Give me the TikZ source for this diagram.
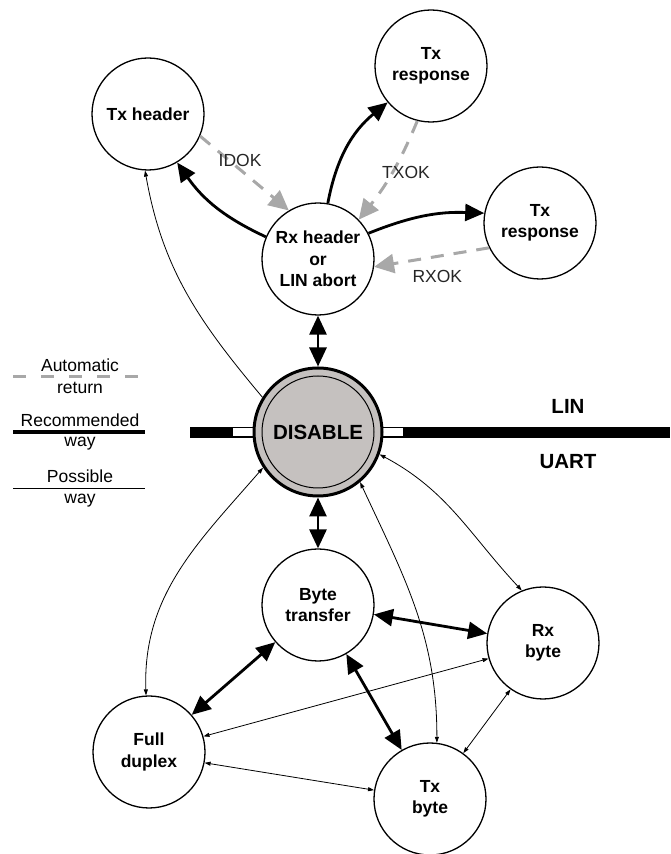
\documentclass[tikz,border=0pt]{standalone}
\usepackage{fontspec}
\setmainfont{Liberation Sans}
\usetikzlibrary{arrows.meta}
\definecolor{retgray}{RGB}{168,168,168}
\definecolor{disfill}{RGB}{197,193,191}
\tikzset{
  state/.style={circle, draw, line width=1.3pt, fill=white, minimum size=112pt,
              inner sep=0pt, align=center, font=\fontsize{17.5}{21.5}\selectfont\bfseries},
  disable/.style={state, fill=disfill, line width=3pt, minimum size=128pt,
              font=\fontsize{20.5}{24}\selectfont\bfseries},
  bigtip/.tip={Triangle[length=19pt,width=17pt]},
  graytip/.tip={Triangle[length=20pt,width=19pt]},
  smalltip/.tip={Triangle[length=6pt,width=4pt]},
  recflow/.style={line width=2.8pt, black},
  retflow/.style={draw=retgray, line width=3pt, dash pattern=on 13pt off 10pt, -graytip},
  possflow/.style={line width=0.8pt, black},
}

\begin{document}
\begin{tikzpicture}[x=1pt, y=1pt,
          lbl/.style={font=\fontsize{17.5}{21}\selectfont, inner sep=0pt},
          side/.style={font=\fontsize{20.5}{24}\selectfont\bfseries, inner sep=0pt}]
        \useasboundingbox (0,0) rectangle (670,854);
        % LIN / UART separation bar
        \fill[black] (190,416) rectangle (670,427);
        \fill[white] (233,417.5) rectangle (258,425.5);
        \fill[white] (378,417.5) rectangle (403,425.5);
        \node[side] (lin) at (568,448) {LIN};
        \node[side] (uart) at (568,392) {UART};
        % states
        \node[state] (txh) at (148,740) {Tx header};
        \node[state] (txr) at (431,788) {Tx\\response};
        \node[state] (txr2) at (540,631) {Tx\\response};
        \node[state] (rxh) at (318,595) {Rx header\\or\\LIN abort};
        \node[disable] (dis) at (318,422) {DISABLE};
        \draw[line width=1pt] (dis.center) circle[radius=56pt];
        \node[state] (bt) at (318,249) {Byte\\transfer};
        \node[state] (rxb) at (543,211) {Rx\\byte};
        \node[state] (fd) at (149,102) {Full\\duplex};
        \node[state] (txb) at (430,55) {Tx\\byte};
        % recommended ways
        \draw[recflow, -bigtip] (rxh.157) to[bend left=15] (txh.-59);
        \draw[recflow, -bigtip] (rxh.80) to[bend left=20] (txr.220);
        \draw[recflow, -bigtip] (rxh.27) to[bend left=12] (txr2.170);
        \draw[recflow, bigtip-bigtip] (rxh) -- (dis);
        \draw[recflow, bigtip-bigtip] (dis) -- (bt);
        \draw[recflow, bigtip-bigtip] (bt) -- (rxb);
        \draw[recflow, bigtip-bigtip] (bt) -- (fd);
        \draw[recflow, bigtip-bigtip] (bt) -- (txb);
        % automatic returns
        \draw[retflow] (txh.-23) -- node[lbl, text=black!85, pos=.45, yshift=9pt] (idok) {IDOK} (rxh.121);
        \draw[retflow] (txr.256) to[bend left=8] node[lbl, text=black!85, pos=.5, xshift=14pt] (txok) {TXOK} (rxh.44);
        \draw[retflow] (txr2.206) -- node[lbl, text=black!85, pos=.45, yshift=-20pt] (rxok) {RXOK} (rxh.-8);
        % possible ways
        \draw[possflow, -smalltip] (dis.148) to[out=130, in=280] (txh.267);
        \draw[possflow, smalltip-smalltip] (dis.213) to[out=229, in=92] (fd.93);
        \draw[possflow, smalltip-smalltip] (dis.-20) to[out=-28, in=133] (rxb.112);
        \draw[possflow, smalltip-smalltip] (dis.-50) to[out=-65, in=90] (txb.83);
        \draw[possflow, smalltip-smalltip] (fd.16) -- (rxb.196);
        \draw[possflow, smalltip-smalltip] (fd.-11) -- (txb.171);
        \draw[possflow, smalltip-smalltip] (rxb.235) -- (txb.54);
        % legend
        \node[lbl] (autotxt) at (80,489) {Automatic};
        \node[lbl] (rettxt) at (80,466) {return};
        \draw[draw=retgray, line width=3pt, dash pattern=on 13pt off 15pt] (13,477) -- (145,477);
        \node[lbl] (rectxt) at (80,434) {Recommended};
        \node[lbl] (waya) at (80,410) {way};
        \draw[line width=3.5pt] (13,422) -- (145,422);
        \node[lbl] (posstxt) at (80,378) {Possible};
        \node[lbl] (wayb) at (80,353) {way};
        \draw[line width=0.8pt] (13,366) -- (145,366);
\end{tikzpicture}
\end{document}
